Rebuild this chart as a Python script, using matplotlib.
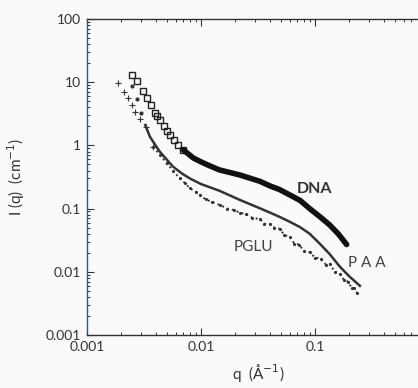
import numpy as np
import matplotlib.pyplot as plt

plt.rcParams['font.family'] = ['Lato', 'DejaVu Sans']

# DNA: sparse open squares at low q, then dense (drawn as thick curve)
dna_q_sq = [0.00247, 0.00273, 0.00308, 0.00334, 0.00364, 0.00392, 0.00415, 0.00437,
            0.00470, 0.00505, 0.00535, 0.00580, 0.00630, 0.00700]
dna_I_sq = [13.1, 10.4, 7.3, 5.7, 4.36, 3.3, 2.9, 2.52,
            2.0, 1.72, 1.46, 1.2, 1.0, 0.85]
dna_q = [0.0070, 0.0086, 0.0100, 0.0115, 0.0145, 0.022, 0.033, 0.040, 0.049,
         0.060, 0.074, 0.090, 0.110, 0.135, 0.160, 0.190]
dna_I = [0.85, 0.63, 0.55, 0.49, 0.41, 0.34, 0.27, 0.23, 0.20,
         0.165, 0.135, 0.10, 0.075, 0.055, 0.040, 0.027]

# PAA: a few separate dots, then a dense thin curve
paa_q_pt = [0.00250, 0.00273, 0.00300]
paa_I_pt = [8.8, 5.4, 3.2]
paa_q = [0.00325, 0.00357, 0.00400, 0.00437, 0.0050, 0.0057, 0.0068, 0.0080, 0.0100,
         0.0147, 0.022, 0.033, 0.040, 0.049, 0.060, 0.074, 0.090, 0.110, 0.135,
         0.166, 0.200, 0.248]
paa_I = [2.1, 1.37, 1.0, 0.79, 0.60, 0.46, 0.36, 0.30, 0.245,
         0.19, 0.137, 0.101, 0.087, 0.074, 0.062, 0.051, 0.040, 0.028, 0.019,
         0.012, 0.0085, 0.0060]

# PGLU: crosses at low q, then dense noisy points
pglu_q = [0.00188, 0.00211, 0.00230, 0.00250, 0.00263, 0.00290, 0.00330, 0.00380,
          0.0044, 0.0050, 0.0057, 0.0065, 0.0073, 0.0080, 0.0090, 0.0098, 0.0110,
          0.0125, 0.0147, 0.0170, 0.0195, 0.022, 0.025, 0.028, 0.033, 0.036,
          0.040, 0.044, 0.049, 0.054, 0.060, 0.066, 0.073, 0.080, 0.090, 0.100,
          0.112, 0.125, 0.135, 0.150, 0.166, 0.180, 0.195, 0.210, 0.222, 0.233]
pglu_I = [9.6, 7.1, 5.7, 4.4, 3.4, 2.6, 1.98, 0.95,
          0.70, 0.52, 0.40, 0.30, 0.25, 0.21, 0.185, 0.164, 0.14,
          0.128, 0.114, 0.100, 0.095, 0.086, 0.082, 0.072, 0.068, 0.058,
          0.057, 0.050, 0.048, 0.038, 0.036, 0.028, 0.027, 0.021, 0.0205, 0.0168,
          0.0162, 0.0130, 0.0133, 0.0100, 0.0094, 0.0074, 0.0070, 0.0056, 0.0055, 0.0047]
n_cross = 8

fig = plt.figure(figsize=(4.18, 3.88), dpi=100, facecolor='#fafafa')
ax = fig.add_axes([0.208, 0.1366, 0.818, 0.8144])
ax.set_facecolor('#fafafa')

ax.plot(pglu_q[:n_cross], pglu_I[:n_cross], linestyle='none', marker='+', ms=4,
        mew=0.8, color='#333333')
ax.plot(pglu_q[n_cross - 1:], pglu_I[n_cross - 1:], linestyle=':', lw=1.4,
        marker='.', ms=2.5, color='#333333')
ax.plot(paa_q_pt, paa_I_pt, linestyle='none', marker='o', ms=2, color='#333333')
ax.plot(paa_q, paa_I, lw=1.8, color='#333333')
ax.plot(dna_q_sq, dna_I_sq, linestyle='none', marker='s', ms=3.8, mfc='none',
        mew=1.0, color='#222222')
ax.plot(dna_q, dna_I, lw=4, color='#111111', solid_capstyle='round')

ax.set_xscale('log')
ax.set_yscale('log')
ax.set_xlim(0.001, 1)
ax.set_ylim(0.001, 100)
ax.set_xticks([0.001, 0.01, 0.1, 1])
ax.set_xticklabels(['0.001', '0.01', '0.1', ''])
ax.set_yticks([0.001, 0.01, 0.1, 1, 10, 100])
ax.set_yticklabels(['0.001', '0.01', '0.1', '1', '10', '100'])
ax.tick_params(which='both', direction='in', top=True, right=True,
               labelsize=10, colors='#333333', pad=4)
ax.tick_params(which='major', length=5, width=0.8)
ax.tick_params(which='minor', length=2.5, width=0.7)
for s in ax.spines.values():
    s.set_color('#333333')
    s.set_linewidth(1.0)
ax.spines['left'].set_color('#305870')

ax.set_xlabel('q  (Å$^{-1}$)', fontsize=11, color='#333333', labelpad=7)
ax.set_ylabel('I (q)  (cm$^{-1}$)', fontsize=11, color='#333333', labelpad=14)

ax.text(0.1, 0.204, 'DNA', fontsize=11.5, fontweight='bold', color='#333333',
        ha='center', va='center')
ax.text(0.0286, 0.0247, 'PGLU', fontsize=11, color='#444444', ha='center', va='center')
ax.text(0.286, 0.0138, 'P A A', fontsize=11, color='#444444', ha='center', va='center')

fig.savefig('out.png', dpi=100, facecolor=fig.get_facecolor())
